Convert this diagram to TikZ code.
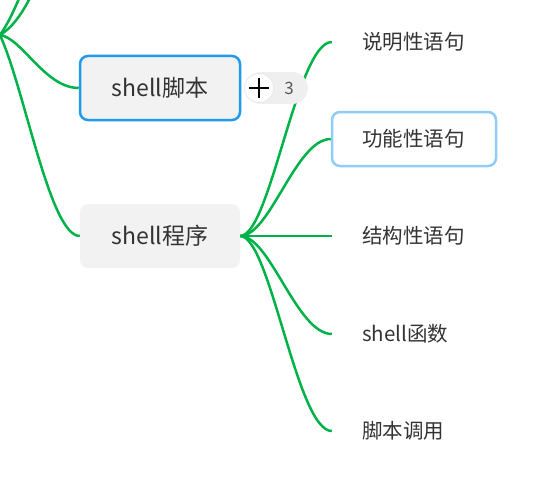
\documentclass[tikz,border=0pt]{standalone}
\usepackage{fontspec}
\setmainfont{Noto Sans CJK SC}
\definecolor{lnk}{RGB}{0,178,72}
\definecolor{txt}{RGB}{51,51,51}
\definecolor{ngray}{RGB}{242,242,242}
\definecolor{selblue}{RGB}{30,155,235}
\definecolor{hovblue}{RGB}{144,204,248}
\definecolor{pgray}{RGB}{239,239,239}
\begin{document}
\begin{tikzpicture}[x=1pt,y=-1pt]
  \tikzset{mt/.style={rectangle,rounded corners=8pt,fill=ngray,minimum width=160pt,minimum height=64pt,inner sep=0pt,font=\fontsize{23}{27}\selectfont,text=txt},
    st/.style={rectangle,rounded corners=8pt,text width=104pt,align=left,inner xsep=30pt,minimum height=54pt,inner ysep=0pt,font=\fontsize{20.5}{24}\selectfont,text=txt},
    ln/.style={draw=lnk,line width=2.5pt}}
  \useasboundingbox (0,0) rectangle (553,492);
  \clip (0,0) rectangle (553,492);
  \coordinate (root) at (0,35);
  \coordinate (up1) at (21,-6);
  \coordinate (up2) at (32,-6);
  \node[mt,draw=selblue,line width=2.5pt] (scr) at (160,88) {shell脚本};
  \node[mt] (prog) at (160,236) {shell程序};
  \node[st] (c1) at (414,42) {说明性语句};
  \node[st,draw=hovblue,line width=2.5pt] (c2) at (414,139) {功能性语句};
  \node[st] (c3) at (414,236) {结构性语句};
  \node[st] (c4) at (414,334) {shell函数};
  \node[st] (c5) at (414,431) {脚本调用};
  \draw[ln] (root) .. controls (8,24) and (15,8) .. (up1);
  \draw[ln] (root) .. controls (15,26) and (25,8) .. (up2);
  \draw[ln] (root) .. controls (22,38) and (45,88) .. (scr.west);
  \draw[ln] (root) .. controls (25,90) and (50,236) .. (prog.west);
  \foreach \c in {c1,c2,c3,c4,c5}
    \draw[ln] (prog.east) .. controls +(30,0) and +(-35,0) .. (\c.west);
  % collapsed children of shell脚本
  \node[fill=pgray,rounded corners=16pt,minimum width=63pt,minimum height=32pt,inner sep=0pt] (pill) at (276.5,88) {};
  \node[circle,fill=white,draw=black!8,line width=1pt,minimum size=29pt,inner sep=0pt] (plus) at (259,88) {};
  \draw[line width=2.4pt] ([xshift=-10pt]plus.center) -- ([xshift=10pt]plus.center);
  \draw[line width=2.4pt] ([yshift=-10pt]plus.center) -- ([yshift=10pt]plus.center);
  \node[text=black!65,font=\fontsize{17}{19}\selectfont,inner sep=0pt] (cnt) at (289,88) {3};
\end{tikzpicture}
\end{document}
